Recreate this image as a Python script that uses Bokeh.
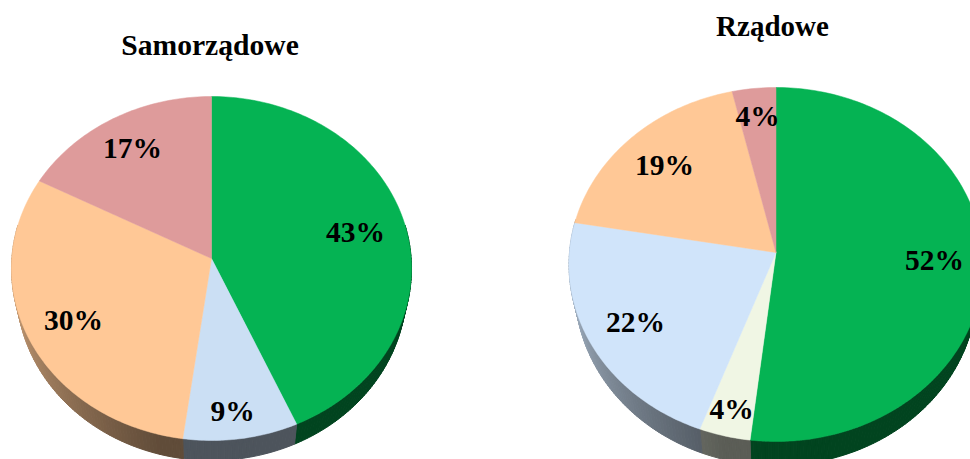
import math
from bokeh.plotting import figure
from bokeh.models import ColumnDataSource
from bokeh.core.properties import value
from bokeh.embed import file_html
from bokeh.resources import INLINE

# Data (slice shares in %, clockwise from 12 o'clock)
left_title = "Samorządowe"
left_values = [43, 9.3, 31.2, 16.5]
left_labels = ["43%", "9%", "30%", "17%"]
left_colors = ["#05b353", "#cbdff4", "#ffc896", "#de9b9b"]

right_title = "Rządowe"
right_values = [52, 4, 22.8, 17.8, 3.4]
right_labels = ["52%", "4%", "22%", "19%", "4%"]
right_colors = ["#05b353", "#f0f6e4", "#d0e4fa", "#ffc896", "#de9b9b"]

# Layout, in picture pixels
PAGE_W, PAGE_H = 970, 459
left_geo = dict(cx=211, cy=268, rx=200, ry=172, apex=258, depth=20, taper=5)
right_geo = dict(cx=775.5, cy=264, rx=207, ry=177, apex=252, depth=24, taper=6)
left_label_pos = [(355, 231), (232, 410), (73, 319), (132, 147)]
right_label_pos = [(934, 259), (731, 408), (635, 321), (664, 164), (757, 115)]
left_title_pos = (209.5, 44)
right_title_pos = (772, 25)

p = figure(width=PAGE_W, height=PAGE_H,
           x_range=(0, PAGE_W), y_range=(PAGE_H, 0),
           output_backend="svg", toolbar_location=None, min_border=0)
p.axis.visible = False
p.grid.visible = False
p.outline_line_color = None
p.background_fill_color = "white"


def rim(g, deg):
    a = math.radians(deg)
    return g["cx"] + g["rx"] * math.sin(a), g["cy"] - g["ry"] * math.cos(a)


def rim_low(g, deg):
    a = math.radians(deg)
    return (g["cx"] + (g["rx"] - g["taper"]) * math.sin(a),
            g["cy"] + g["depth"] - g["ry"] * math.cos(a))


def shade(color, deg):
    t = min(max((deg - 195) / 75, 0), 1)
    f = 0.38 + (0.80 - 0.38) * t
    r, gg, b = (int(color[i:i + 2], 16) for i in (1, 3, 5))
    return "#%02x%02x%02x" % (int(r * f), int(gg * f), int(b * f))


def draw_pie(values, colors, labels, label_pos, title, title_pos, g, title_size):
    total = sum(values)
    side = dict(xs=[], ys=[], c=[])
    top = dict(xs=[], ys=[], c=[])
    start = 0.0
    for v, col in zip(values, colors):
        end = start + v / total * 360
        n = max(int(end - start), 2)
        angles = [start + (end - start) * i / n for i in range(n + 1)]
        pts = [rim(g, a) for a in angles]
        top["xs"].append([g["cx"]] + [q[0] for q in pts])
        top["ys"].append([g["apex"]] + [q[1] for q in pts])
        top["c"].append(col)
        for a1, a2, q1, q2 in zip(angles[:-1], angles[1:], pts[:-1], pts[1:]):
            mid = (a1 + a2) / 2
            if 75 < mid < 285:
                l1, l2 = rim_low(g, a1), rim_low(g, a2)
                side["xs"].append([q1[0], q2[0], l2[0], l1[0]])
                side["ys"].append([q1[1], q2[1], l2[1], l1[1]])
                side["c"].append(shade(col, mid))
        start = end
    p.patches("xs", "ys", source=ColumnDataSource(side), fill_color="c", line_color="c", line_width=1)
    p.patches("xs", "ys", source=ColumnDataSource(top), fill_color="c", line_color="c", line_width=0.5)
    lab = dict(x=[q[0] for q in label_pos], y=[q[1] for q in label_pos], t=labels)
    p.text("x", "y", text="t", source=ColumnDataSource(lab), text_font=value("Liberation Serif"),
           text_font_style="bold", text_font_size="29.5px", text_color="black",
           text_align="center", text_baseline="middle")
    p.text([title_pos[0]], [title_pos[1]], text=[title], text_font=value("Liberation Serif"),
           text_font_style="bold", text_font_size=title_size, text_color="black",
           text_align="center", text_baseline="middle")


draw_pie(left_values, left_colors, left_labels, left_label_pos, left_title, left_title_pos, left_geo, "29.6px")
draw_pie(right_values, right_colors, right_labels, right_label_pos, right_title, right_title_pos, right_geo, "29px")

open("out.html", "w").write(file_html(p, INLINE))
